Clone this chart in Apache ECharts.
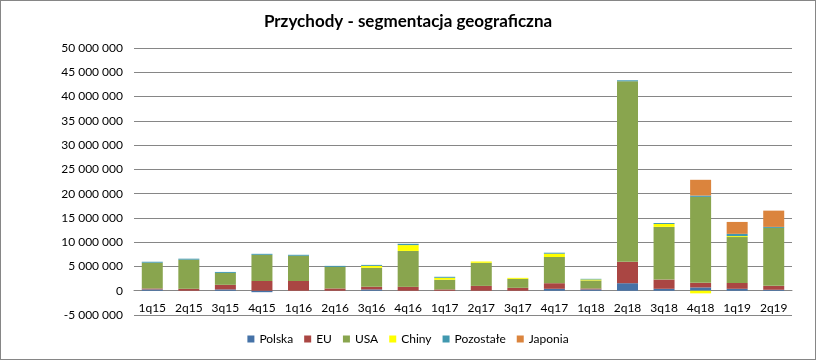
<!DOCTYPE html>
<html>
<head>
<meta charset="utf-8">
<script src="https://cdn.jsdelivr.net/npm/echarts@6/dist/echarts.min.js"></script>
<style>
html,body{margin:0;padding:0;background:#fff;}
#c{width:814px;height:358px;border:1px solid #868686;}
</style>
</head>
<body>
<div id="c"></div>
<script>
const categories = ['1q15','2q15','3q15','4q15','1q16','2q16','3q16','4q16','1q17','2q17','3q17','4q17','1q18','2q18','3q18','4q18','1q19','2q19'];
const polska    = [270000, 0, 270000, -300000, 0, 0, 270000, 0, 0, 0, 0, 400000, 270000, 1550000, 400000, 680000, 400000, 200000];
const eu        = [200000, 400000, 950000, 2000000, 2000000, 470000, 550000, 800000, 270000, 1000000, 600000, 1150000, 200000, 4400000, 1900000, 950000, 1200000, 800000];
const usa       = [5300000, 6000000, 2450000, 5400000, 5200000, 4450000, 3900000, 7400000, 2000000, 4750000, 1850000, 5400000, 1650000, 37200000, 10850000, 17700000, 9450000, 11950000];
const chiny     = [0, 0, 0, 0, 0, 0, 400000, 1200000, 400000, 270000, 200000, 680000, 200000, 0, 600000, -540000, 200000, 0];
const pozostale = [200000, 200000, 200000, 200000, 200000, 200000, 200000, 270000, 200000, 0, 0, 200000, 130000, 200000, 200000, 270000, 470000, 200000];
const japonia   = [0, 0, 0, 0, 0, 0, 0, 0, 0, 0, 0, 0, 0, 0, 0, 3250000, 2450000, 3350000];

const seriesNames = ['Polska','EU','USA','Chiny','Pozostałe','Japonia'];
const seriesData = [polska, eu, usa, chiny, pozostale, japonia];
const colors = ['#4572A7','#AA4643','#89A54E','#FFFF00','#4198AF','#DB843D'];

const chart = echarts.init(document.getElementById('c'));
const fmt = v => {
  const s = Math.abs(v).toString().replace(/\B(?=(\d{3})+(?!\d))/g, ' ');
  return (v < 0 ? '-' : '') + s;
};
const gridTop = 47, gridBottom = 44, yMin = -5000000, yMax = 50000000;
const plotH = 358 - gridTop - gridBottom;
const zeroOffset = plotH * (0 - yMin) / (yMax - yMin);

chart.setOption({
  animation: false,
  color: colors,
  textStyle: { fontFamily: 'Lato' },
  title: {
    text: 'Przychody - segmentacja geograficzna',
    left: 'center', top: 7,
    textStyle: { fontFamily: 'Lato', fontWeight: 'bold', fontSize: 17, color: '#000' }
  },
  legend: {
    bottom: 9, left: 'center',
    itemWidth: 7, itemHeight: 7, itemGap: 11,
    icon: 'rect',
    textStyle: { fontFamily: 'Lato', fontSize: 12, color: '#000' },
    data: seriesNames
  },
  grid: { left: 133, right: 23, top: gridTop, bottom: gridBottom, containLabel: false },
  xAxis: {
    type: 'category',
    data: categories,
    offset: -zeroOffset,
    axisLine: { show: true, onZero: false, lineStyle: { color: '#868686' } },
    axisTick: { show: false },
    axisLabel: { fontFamily: 'Lato', fontSize: 12, color: '#000', margin: 11, interval: 0 },
    z: 1
  },
  yAxis: {
    type: 'value',
    min: yMin, max: yMax, interval: 5000000,
    axisLine: { show: false },
    axisTick: { show: false },
    splitLine: { show: true, lineStyle: { color: '#868686', width: 1 } },
    axisLabel: { fontFamily: 'Lato', fontSize: 12, color: '#000', margin: 11, formatter: fmt }
  },
  series: seriesNames.map((n, i) => ({
    name: n,
    type: 'bar',
    stack: 'total',
    barWidth: 21,
    data: seriesData[i],
    itemStyle: { color: colors[i] }
  }))
});
</script>
</body>
</html>
